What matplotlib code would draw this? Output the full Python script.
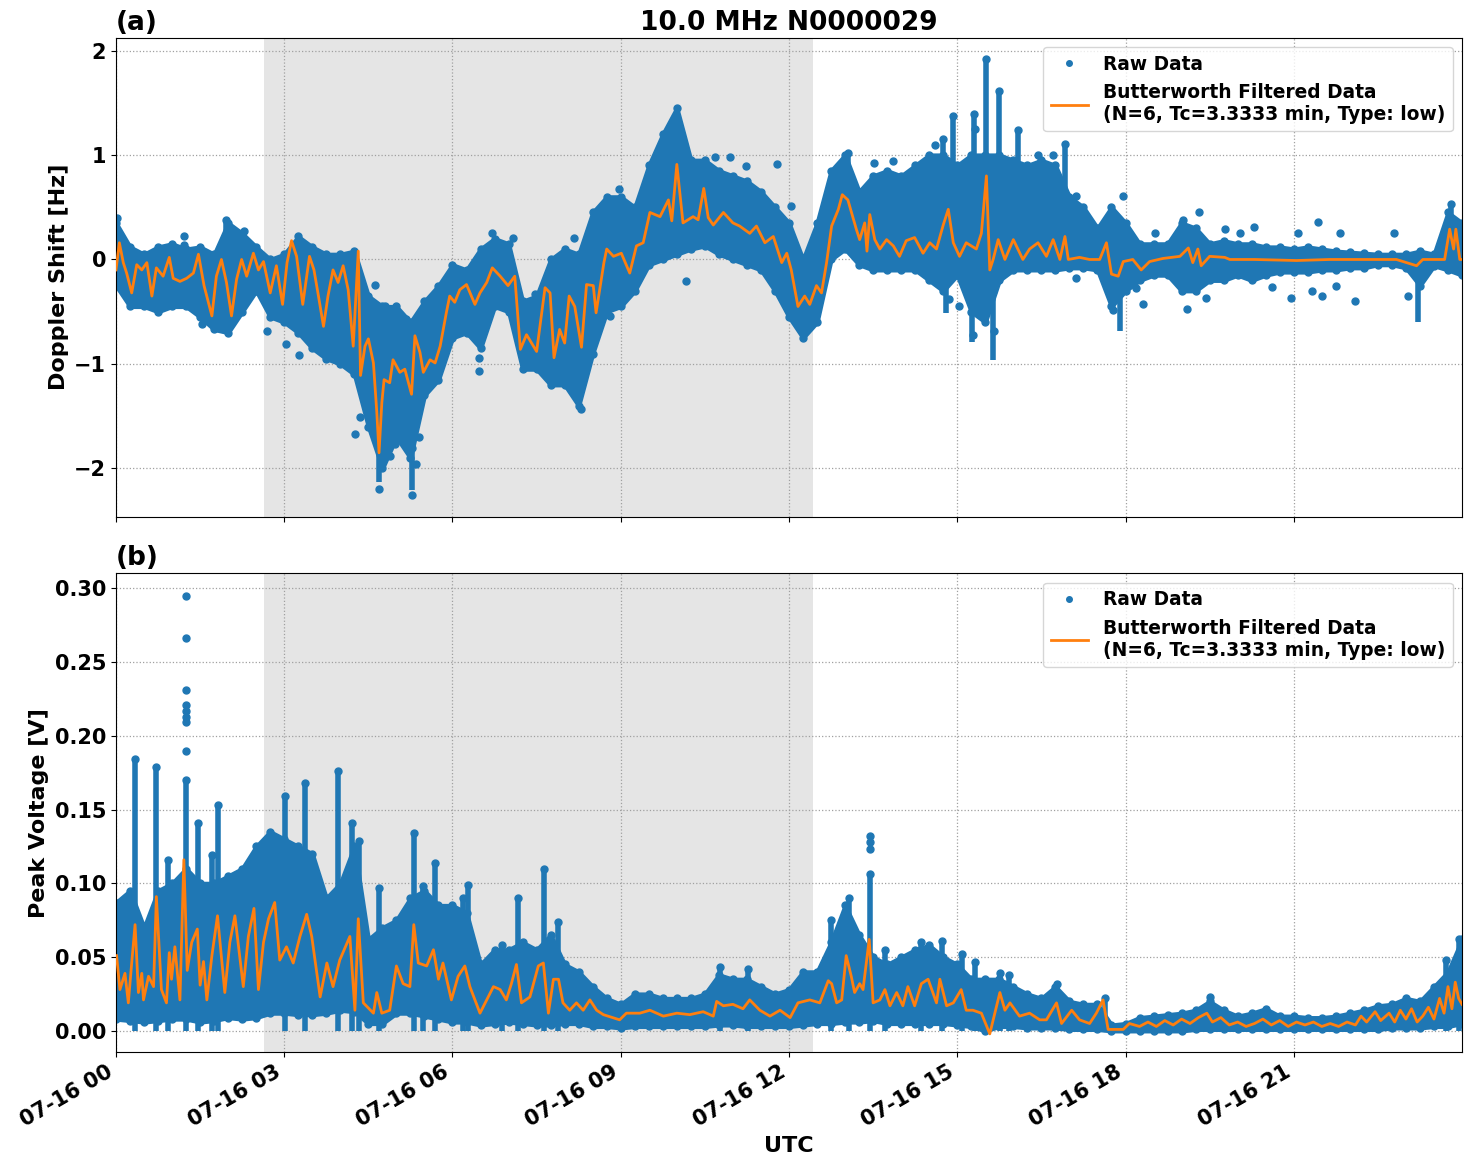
import numpy as np
import pandas as pd
import matplotlib
matplotlib.use('Agg')
import matplotlib.pyplot as plt
import matplotlib.dates as mdates

plt.rcParams['font.family'] = 'DejaVu Sans'
plt.rcParams['font.weight'] = 'bold'
plt.rcParams['axes.labelweight'] = 'bold'
plt.rcParams['axes.titleweight'] = 'bold'

# ---------------- data (hours after 2024-07-16 00:00 UTC) ----------------
title = '10.0 MHz N0000029'
raw_label = 'Raw Data'
filt_label = 'Butterworth Filtered Data\n(N=6, Tc=3.3333 min, Type: low)'
shade_start, shade_end = 2.64, 12.42  # hours

# envelope of the raw scatter, sampled every 15 min
env_hours = np.arange(0, 24.01, 0.25)

ds_hi = [0.35, 0.12, 0.05, 0.12, 0.15, 0.10, 0.12, 0.05, 0.35, 0.25, 0.12, 0.00,
         0.05, 0.22, 0.12, 0.05, 0.05, 0.08, -0.35, -0.45, -0.45, -0.60, -0.40, -0.25,
         -0.05, -0.10, 0.10, 0.20, 0.15, -0.40, -0.35, 0.00, 0.10, 0.05, 0.45, 0.60,
         0.60, 0.50, 0.90, 1.20, 1.45, 0.95, 0.95, 0.85, 0.80, 0.75, 0.65, 0.50,
         0.35, 0.00, 0.35, 0.85, 1.00, 0.65, 0.80, 0.85, 0.80, 0.90, 1.00, 1.00,
         0.90, 1.00, 1.00, 1.00, 0.95, 0.90, 0.95, 0.90, 0.60, 0.50, 0.30, 0.50,
         0.35, 0.15, 0.15, 0.15, 0.35, 0.30, 0.15, 0.18, 0.15, 0.15, 0.12, 0.12,
         0.10, 0.12, 0.10, 0.08, 0.07, 0.06, 0.05, 0.05, 0.05, 0.08, 0.05, 0.45,
         0.35]
ds_lo = [-0.25, -0.45, -0.45, -0.50, -0.45, -0.45, -0.55, -0.67, -0.70, -0.50, -0.30, -0.55,
         -0.60, -0.70, -0.85, -0.95, -1.00, -1.10, -1.60, -2.00, -1.70, -1.90, -1.30, -1.15,
         -0.75, -0.70, -0.85, -0.45, -0.50, -1.05, -1.05, -1.20, -1.20, -1.40, -0.90, -0.50,
         -0.45, -0.30, -0.05, 0.00, 0.05, 0.10, 0.13, 0.05, 0.00, -0.05, -0.10, -0.30,
         -0.55, -0.75, -0.60, 0.00, 0.10, -0.05, -0.10, -0.10, -0.10, -0.10, -0.20, -0.30,
         -0.15, -0.50, -0.60, -0.20, -0.10, -0.10, -0.10, -0.10, -0.08, -0.08, -0.10, -0.45,
         -0.30, -0.20, -0.15, -0.15, -0.30, -0.30, -0.20, -0.20, -0.15, -0.20, -0.15, -0.12,
         -0.12, -0.12, -0.10, -0.10, -0.08, -0.08, -0.05, -0.05, -0.08, -0.25, -0.06, -0.10,
         -0.15]

pv_hi = [0.087, 0.095, 0.070, 0.095, 0.100, 0.110, 0.100, 0.100, 0.105, 0.110, 0.125, 0.135,
         0.130, 0.125, 0.120, 0.090, 0.100, 0.125, 0.062, 0.070, 0.075, 0.090, 0.095, 0.085,
         0.085, 0.080, 0.045, 0.055, 0.055, 0.060, 0.055, 0.065, 0.045, 0.040, 0.030, 0.022,
         0.018, 0.025, 0.025, 0.022, 0.022, 0.022, 0.025, 0.038, 0.035, 0.035, 0.030, 0.025,
         0.028, 0.040, 0.040, 0.060, 0.085, 0.065, 0.050, 0.045, 0.050, 0.055, 0.058, 0.050,
         0.045, 0.035, 0.035, 0.035, 0.030, 0.025, 0.022, 0.030, 0.020, 0.018, 0.018, 0.004,
         0.005, 0.009, 0.010, 0.011, 0.012, 0.014, 0.020, 0.014, 0.010, 0.012, 0.015, 0.010,
         0.010, 0.009, 0.009, 0.010, 0.012, 0.014, 0.017, 0.018, 0.022, 0.020, 0.030, 0.040,
         0.062]
pv_lo = [0.008, 0.007, 0.006, 0.007, 0.008, 0.008, 0.006, 0.007, 0.009, 0.008, 0.009, 0.012,
         0.012, 0.011, 0.011, 0.012, 0.014, 0.013, 0.005, 0.005, 0.012, 0.012, 0.010, 0.008,
         0.006, 0.006, 0.004, 0.005, 0.006, 0.005, 0.004, 0.004, 0.005, 0.005, 0.003, 0.003,
         0.002, 0.003, 0.003, 0.003, 0.003, 0.003, 0.003, 0.004, 0.004, 0.003, 0.003, 0.003,
         0.003, 0.004, 0.005, 0.005, 0.006, 0.006, 0.007, 0.005, 0.005, 0.005, 0.005, 0.005,
         0.004, 0.003, 0.000, 0.003, 0.003, 0.002, 0.002, 0.002, 0.001, 0.001, 0.001, 0.000,
         0.000, 0.000, 0.000, 0.000, 0.000, 0.001, 0.001, 0.001, 0.001, 0.001, 0.001, 0.001,
         0.001, 0.001, 0.001, 0.001, 0.001, 0.001, 0.001, 0.002, 0.002, 0.002, 0.003, 0.003,
         0.005]

# raw-data columns that stick out of the band: time, bottom, top
ds_spike_t = [1.97, 14.75, 14.93, 15.29, 15.51, 15.75, 16.08, 16.93, 13.05,
              15.27, 15.64, 14.80, 17.90, 23.22, 4.69, 5.27, 23.80]
ds_spike_lo = [0.0, 0.5, 0.6, 0.6, 0.8, 0.8, 0.7, 0.6, 0.5,
               -0.79, -0.96, -0.51, -0.68, -0.60, -2.13, -2.21, 0.0]
ds_spike_hi = [0.38, 1.15, 1.37, 1.39, 1.92, 1.61, 1.24, 1.11, 1.02,
               -0.30, -0.30, -0.20, -0.20, -0.15, -1.80, -1.80, 0.53]

# isolated raw points
ds_dot_t = [0.02, 1.21, 1.21, 1.53, 2.28, 2.70, 3.04, 3.27, 4.26, 4.35, 4.69, 4.88, 4.97,
            5.27, 5.35, 5.41, 4.62, 4.80, 4.93, 5.17, 6.48, 6.48, 6.70, 7.08, 7.47, 8.30,
            8.17, 8.81, 8.97, 10.17, 10.68, 10.95, 11.24, 11.78, 12.02, 12.04, 13.52, 13.86,
            14.24, 14.78, 14.85, 15.04, 15.28, 15.65, 16.44, 16.70, 17.11, 17.12, 17.96, 17.77,
            18.31, 18.19, 18.52, 19.03, 19.10, 19.31, 19.43, 19.78, 20.04, 20.30, 20.62, 20.95,
            21.08, 21.43, 21.50, 21.82, 21.76, 22.09, 22.79, 23.04, 21.33, 15.52, 15.31, 14.60]
ds_dot_v = [0.40, 0.22, 0.14, -0.62, 0.27, -0.68, -0.81, -0.91, -1.67, -1.51, -2.20, -1.88, -1.77,
            -2.25, -1.96, -1.70, -0.24, -0.45, -0.50, -0.57, -1.07, -0.94, 0.25, 0.21, -0.33, -1.43,
            0.21, -0.54, 0.67, -0.21, 0.98, 0.98, 0.89, 0.91, -0.49, 0.51, 0.92, 0.94,
            0.83, -0.24, -0.38, -0.45, -0.72, -0.68, 1.00, 1.00, 0.61, -0.18, 0.61, -0.48,
            -0.43, -0.27, 0.25, 0.38, -0.47, 0.45, -0.37, 0.29, 0.25, 0.31, -0.26, -0.37,
            0.25, 0.36, -0.35, 0.25, -0.25, -0.40, 0.25, -0.35, -0.30, -0.05, 1.25, 1.10]

# Butterworth filtered Doppler shift
ds_filt_t = [0.00, 0.06, 0.13, 0.19, 0.28, 0.37, 0.46, 0.55, 0.64, 0.72, 0.84, 0.95, 1.02,
             1.14, 1.26, 1.38, 1.47, 1.57, 1.71, 1.79, 1.88, 1.97, 2.06, 2.15, 2.24, 2.33,
             2.45, 2.54, 2.63, 2.75, 2.86, 2.97, 3.05, 3.13, 3.22, 3.33, 3.45, 3.53, 3.61,
             3.70, 3.78, 3.87, 3.96, 4.05, 4.14, 4.23, 4.29, 4.32, 4.36, 4.44, 4.50, 4.59,
             4.65, 4.69, 4.74, 4.78, 4.88, 4.94, 5.06, 5.15, 5.27, 5.33, 5.42, 5.48, 5.60,
             5.69, 5.78, 5.89, 5.95, 6.04, 6.13, 6.25, 6.40, 6.49, 6.61, 6.71, 6.85, 6.99,
             7.11, 7.21, 7.32, 7.41, 7.50, 7.65, 7.74, 7.81, 7.91, 8.00, 8.08, 8.18, 8.30,
             8.39, 8.51, 8.56, 8.70, 8.75, 8.87, 9.01, 9.16, 9.28, 9.40, 9.52, 9.70, 9.85,
             9.91, 10.00, 10.11, 10.29, 10.38, 10.48, 10.56, 10.65, 10.83, 11.00, 11.12, 11.30,
             11.42, 11.57, 11.72, 11.87, 11.96, 12.04, 12.16, 12.28, 12.37, 12.49, 12.58, 12.67,
             12.76, 12.88, 12.95, 13.05, 13.20, 13.26, 13.35, 13.39, 13.44, 13.53, 13.62, 13.74,
             13.86, 13.97, 14.09, 14.24, 14.39, 14.51, 14.63, 14.75, 14.84, 14.93, 15.04, 15.16,
             15.34, 15.43, 15.52, 15.58, 15.64, 15.73, 15.85, 16.00, 16.17, 16.29, 16.44, 16.59,
             16.71, 16.83, 16.92, 16.98, 17.18, 17.36, 17.54, 17.66, 17.75, 17.87, 17.96, 18.13,
             18.28, 18.43, 18.67, 18.97, 19.12, 19.20, 19.29, 19.35, 19.50, 19.77, 19.86, 20.30,
             21.05, 21.64, 22.23, 22.83, 23.19, 23.30, 23.69, 23.78, 23.85, 23.89, 23.96, 24.00]
ds_filt_v = [-0.10, 0.16, -0.03, -0.13, -0.32, -0.05, -0.10, -0.03, -0.35, -0.08, -0.16, 0.02, -0.18,
             -0.21, -0.18, -0.13, 0.05, -0.25, -0.54, -0.16, 0.00, -0.22, -0.54, -0.19, 0.00, -0.16,
             0.06, -0.10, -0.02, -0.32, -0.06, -0.43, -0.03, 0.18, 0.03, -0.43, 0.03, -0.10, -0.35,
             -0.64, -0.35, -0.10, -0.22, -0.06, -0.29, -0.83, -0.22, 0.08, -1.11, -0.83, -0.76, -0.99,
             -1.46, -1.85, -1.37, -1.15, -1.18, -0.96, -1.08, -1.05, -1.29, -0.73, -0.89, -1.08, -0.96,
             -0.99, -0.83, -0.51, -0.35, -0.41, -0.29, -0.24, -0.43, -0.32, -0.22, -0.08, -0.16, -0.25,
             -0.16, -0.86, -0.72, -0.80, -0.88, -0.27, -0.32, -0.94, -0.67, -0.80, -0.35, -0.45, -0.84,
             -0.24, -0.25, -0.51, -0.03, 0.10, 0.03, 0.06, -0.13, 0.13, 0.16, 0.45, 0.41, 0.57,
             0.37, 0.91, 0.35, 0.41, 0.38, 0.68, 0.40, 0.33, 0.45, 0.35, 0.32, 0.25,
             0.32, 0.16, 0.22, -0.03, 0.06, -0.10, -0.45, -0.35, -0.43, -0.25, -0.32, -0.03,
             0.32, 0.48, 0.62, 0.57, 0.29, 0.19, 0.35, 0.08, 0.43, 0.19, 0.10, 0.19,
             0.13, 0.03, 0.18, 0.21, 0.06, 0.16, 0.10, 0.33, 0.48, 0.16, 0.03, 0.16,
             0.10, 0.25, 0.80, -0.10, 0.00, 0.19, 0.00, 0.19, 0.00, 0.10, 0.16, 0.03,
             0.19, 0.00, 0.22, 0.00, 0.02, 0.00, 0.00, 0.16, -0.14, -0.16, -0.02, 0.00,
             -0.10, -0.02, 0.01, 0.03, 0.11, -0.03, 0.10, -0.06, 0.03, 0.02, 0.00, 0.00,
             -0.01, 0.00, 0.00, 0.00, -0.06, 0.00, 0.00, 0.29, 0.10, 0.29, 0.00, 0.00]

# peak voltage raw columns (time, top) drawn down to zero
pv_spike_t = [0.34, 0.72, 0.93, 1.24, 1.47, 1.72, 1.82, 3.01, 3.37, 3.95, 4.20, 4.34, 4.69,
              5.31, 5.48, 5.69, 6.19, 6.28, 6.88, 7.17, 7.64, 7.89, 10.77, 11.27, 12.74, 13.07,
              13.44, 13.71, 14.36, 14.72, 15.09, 15.31, 15.76, 15.92, 16.77, 17.63, 19.50, 23.72,
              23.95]
pv_spike_hi = [0.184, 0.179, 0.116, 0.170, 0.141, 0.119, 0.153, 0.159, 0.168, 0.176, 0.141, 0.129, 0.097,
               0.134, 0.098, 0.114, 0.090, 0.099, 0.058, 0.090, 0.110, 0.074, 0.043, 0.042, 0.075, 0.090,
               0.106, 0.055, 0.060, 0.061, 0.052, 0.047, 0.039, 0.038, 0.032, 0.022, 0.023, 0.048,
               0.062]
pv_dot_t = [1.24, 1.24, 1.24, 1.24, 1.24, 1.24, 1.24, 1.24, 13.44, 13.44, 13.44]
pv_dot_v = [0.295, 0.266, 0.231, 0.221, 0.217, 0.213, 0.209, 0.190, 0.132, 0.128, 0.123]

# Butterworth filtered peak voltage
pv_filt_t = [0.01, 0.07, 0.16, 0.22, 0.28, 0.34, 0.40, 0.46, 0.49, 0.58, 0.67, 0.72, 0.81,
             0.90, 0.95, 0.99, 1.05, 1.14, 1.21, 1.27, 1.35, 1.45, 1.50, 1.56, 1.62, 1.71,
             1.81, 1.94, 2.03, 2.12, 2.27, 2.36, 2.46, 2.54, 2.63, 2.72, 2.83, 2.92, 3.04,
             3.16, 3.28, 3.40, 3.49, 3.64, 3.76, 3.87, 3.99, 4.17, 4.26, 4.32, 4.41, 4.59,
             4.65, 4.74, 4.88, 5.00, 5.12, 5.24, 5.31, 5.39, 5.54, 5.66, 5.75, 5.83, 5.98,
             6.10, 6.22, 6.31, 6.40, 6.49, 6.61, 6.73, 6.85, 6.96, 7.05, 7.14, 7.23, 7.38,
             7.53, 7.62, 7.71, 7.80, 7.89, 7.97, 8.09, 8.21, 8.33, 8.45, 8.57, 8.69, 8.98,
             9.10, 9.34, 9.52, 9.76, 10.00, 10.23, 10.47, 10.65, 10.71, 10.83, 11.00, 11.18,
             11.30, 11.48, 11.66, 11.84, 12.02, 12.16, 12.37, 12.55, 12.70, 12.76, 12.85, 12.94,
             13.02, 13.11, 13.17, 13.26, 13.32, 13.43, 13.50, 13.62, 13.71, 13.80, 13.92, 14.03,
             14.12, 14.24, 14.36, 14.48, 14.63, 14.69, 14.81, 14.93, 15.07, 15.16, 15.28, 15.43,
             15.58, 15.67, 15.76, 15.85, 15.94, 16.11, 16.29, 16.47, 16.59, 16.77, 16.86, 17.04,
             17.18, 17.36, 17.48, 17.60, 17.69, 17.96, 18.07, 18.25, 18.40, 18.55, 18.70, 18.85,
             19.00, 19.15, 19.30, 19.45, 19.55, 19.70, 19.85, 20.00, 20.15, 20.30, 20.45, 20.60,
             20.75, 20.90, 21.05, 21.20, 21.35, 21.50, 21.65, 21.80, 21.95, 22.10, 22.20, 22.30,
             22.45, 22.55, 22.70, 22.80, 22.90, 23.00, 23.10, 23.20, 23.30, 23.40, 23.50, 23.60,
             23.68, 23.75, 23.82, 23.88, 23.94, 24.00]
pv_filt_v = [0.051, 0.028, 0.039, 0.019, 0.046, 0.072, 0.026, 0.039, 0.021, 0.037, 0.030, 0.091, 0.028,
             0.019, 0.053, 0.035, 0.057, 0.021, 0.116, 0.041, 0.060, 0.069, 0.031, 0.047, 0.021, 0.051,
             0.078, 0.026, 0.060, 0.078, 0.030, 0.064, 0.083, 0.028, 0.060, 0.076, 0.087, 0.048, 0.057,
             0.046, 0.064, 0.079, 0.064, 0.023, 0.046, 0.030, 0.048, 0.064, 0.014, 0.076, 0.019, 0.012,
             0.026, 0.012, 0.014, 0.044, 0.032, 0.030, 0.072, 0.046, 0.044, 0.055, 0.035, 0.046, 0.021,
             0.037, 0.044, 0.030, 0.021, 0.012, 0.021, 0.030, 0.028, 0.021, 0.032, 0.045, 0.019, 0.023,
             0.044, 0.046, 0.012, 0.035, 0.035, 0.019, 0.014, 0.019, 0.014, 0.021, 0.014, 0.011, 0.0075,
             0.012, 0.012, 0.014, 0.010, 0.012, 0.011, 0.013, 0.010, 0.020, 0.017, 0.018, 0.015,
             0.021, 0.014, 0.010, 0.014, 0.009, 0.019, 0.021, 0.019, 0.034, 0.032, 0.019, 0.021,
             0.051, 0.037, 0.026, 0.032, 0.028, 0.062, 0.019, 0.021, 0.028, 0.017, 0.026, 0.017,
             0.030, 0.017, 0.032, 0.035, 0.019, 0.035, 0.017, 0.019, 0.028, 0.014, 0.014, 0.012,
             -0.002, 0.012, 0.026, 0.014, 0.019, 0.010, 0.012, 0.0075, 0.0075, 0.019, 0.005, 0.014,
             0.0075, 0.005, 0.012, 0.021, 0.001, 0.001, 0.005, 0.003, 0.006, 0.003, 0.007, 0.004,
             0.008, 0.005, 0.009, 0.012, 0.006, 0.009, 0.004, 0.006, 0.003, 0.005, 0.008, 0.004,
             0.007, 0.003, 0.006, 0.004, 0.006, 0.003, 0.005, 0.003, 0.006, 0.004, 0.010, 0.006,
             0.013, 0.007, 0.012, 0.006, 0.014, 0.008, 0.015, 0.006, 0.010, 0.016, 0.008, 0.022,
             0.012, 0.030, 0.015, 0.033, 0.022, 0.018]


# ---------------- plotting ----------------
day = pd.Timestamp('2024-07-16')


def to_time(hours):
    return day + pd.to_timedelta(np.asarray(hours, dtype=float), unit='h')


def draw_panel(ax, hi, lo, spike_t, spike_lo, spike_hi, dot_t, dot_v, filt_t, filt_v):
    blue, orange = '#1f77b4', '#ff7f0e'
    te = to_time(env_hours)
    ax.axvspan(to_time(shade_start), to_time(shade_end), color='grey', alpha=0.2, lw=0, zorder=0)
    ax.fill_between(te, lo, hi, color=blue, lw=3, zorder=2)
    ax.vlines(to_time(spike_t), spike_lo, spike_hi, color=blue, lw=4, zorder=2)
    ax.plot(te, hi, '.', color=blue, ms=10, zorder=2, label=raw_label)
    ax.plot(te, lo, '.', color=blue, ms=10, zorder=2)
    ax.plot(to_time(spike_t), spike_hi, '.', color=blue, ms=10, zorder=2)
    ax.plot(to_time(dot_t), dot_v, '.', color=blue, ms=10, zorder=2)
    ax.plot(to_time(filt_t), filt_v, '-', color=orange, lw=2, zorder=3, label=filt_label)
    ax.grid(True, linestyle=':', color='#a0a0a0', linewidth=0.9)
    ax.legend(loc='upper right', prop={'weight': 'bold', 'size': 13.4}, markerscale=0.8)
    ax.tick_params(labelsize=15)


fig, (ax1, ax2) = plt.subplots(2, 1, figsize=(14.72, 11.72), dpi=100, sharex=True)

draw_panel(ax1, ds_hi, ds_lo, ds_spike_t, ds_spike_lo, ds_spike_hi,
           ds_dot_t, ds_dot_v, ds_filt_t, ds_filt_v)
ax1.set_ylim(-2.46, 2.12)
ax1.set_yticks([-2, -1, 0, 1, 2])
ax1.set_ylabel('Doppler Shift [Hz]', fontsize=16)
ax1.set_title('(a)', loc='left', fontsize=19)
ax1.set_title(title, fontsize=19)

draw_panel(ax2, pv_hi, pv_lo, pv_spike_t, np.zeros(len(pv_spike_t)), pv_spike_hi,
           pv_dot_t, pv_dot_v, pv_filt_t, pv_filt_v)
ax2.set_ylim(-0.0143, 0.310)
ax2.set_yticks([0.0, 0.05, 0.10, 0.15, 0.20, 0.25, 0.30])
ax2.set_ylabel('Peak Voltage [V]', fontsize=16)
ax2.set_title('(b)', loc='left', fontsize=19)
ax2.set_xlabel('UTC', fontsize=16)

ax2.set_xlim(to_time(0), to_time(23.9997))
ax2.xaxis.set_major_locator(mdates.HourLocator(byhour=range(0, 24, 3)))
ax2.xaxis.set_major_formatter(mdates.DateFormatter('%m-%d %H'))
for lab in ax2.get_xticklabels():
    lab.set_rotation(30)
    lab.set_ha('right')

fig.subplots_adjust(left=0.0788, right=0.9932, top=0.9676, bottom=0.1024, hspace=0.119)
fig.savefig('out.png', dpi=100)
